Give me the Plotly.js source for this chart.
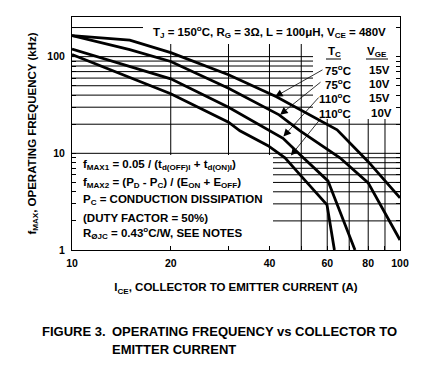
<!DOCTYPE html>
<html><head><meta charset="utf-8">
<script src="https://cdn.plot.ly/plotly-3.0.1.min.js"></script>
<style>html,body{margin:0;padding:0;background:#fff;}#chart{width:436px;height:371px;}</style>
</head><body><div id="chart"></div>
<script>
// ---- data ----
const xTickVals = [10,20,40,60,80,100];
const xMinorVals = [30,50,70,90];
const yTickVals = [1,10,100];
const yMinorVals = [2,3,4,5,6,7,8,9,20,30,40,50,60,70,80,90,200];

const seriesNames = ['75°C 15V','75°C 10V','110°C 15V','110°C 10V'];
const a_x = [10, 15, 20, 30, 42, 54.3, 64.3, 80, 100];
const a_y = [165, 148, 110, 65, 38.5, 23.9, 17.5, 8.2, 3.46];
const b_x = [10, 15, 20, 30, 42.8, 49.6, 65.6, 80, 100];
const b_y = [165, 118, 89, 47, 25, 17.1, 9.0, 4.95, 1.27];
const c_x = [10, 20, 30, 39.6, 44, 49.6, 60.3, 72.9];
const c_y = [120, 59, 30, 17.5, 14.3, 9.65, 5.19, 1.0];
const d_x = [10, 20, 30, 32.5, 39.6, 44.6, 49.6, 59.9, 63.1];
const d_y = [105, 41.4, 21, 17.1, 12.0, 8.98, 5.99, 2.93, 1.0];

// arrow tips (data values) for the legend leader lines
const arrowTips = [[41.6, 38.5], [43.1, 25.1], [44.1, 14.9], [46.5, 9.5]];
const tcLabels = ['75<sup>o</sup>C','75<sup>o</sup>C','110<sup>o</sup>C','110<sup>o</sup>C'];
const vgeLabels = ['15V','10V','15V','10V'];

const formulaLines = [
  'f<sub>MAX1</sub> = 0.05 / (t<sub>d(OFF)I</sub> + t<sub>d(ON)I</sub>)',
  'f<sub>MAX2</sub> = (P<sub>D</sub> - P<sub>C</sub>) / (E<sub>ON</sub> + E<sub>OFF</sub>)',
  'P<sub>C</sub> = CONDUCTION DISSIPATION',
  '(DUTY FACTOR = 50%)',
  'R<sub>ØJC</sub> = 0.43<sup>o</sup>C/W, SEE NOTES'
];

// ---- layout helpers ----
const W = 436, H = 371;
const M = {l:72, r:36, t:17, b:121};
const pw = W - M.l - M.r, ph = H - M.t - M.b;
const XR = [1, 2], YR = [0, 2.41];
const PX = v => (v - M.l) / pw;          // pixel -> paper
const PY = v => (H - M.b - v) / ph;
const LX = v => (Math.log10(v) - XR[0]) / (XR[1] - XR[0]);   // data -> paper
const LY = v => (Math.log10(v) - YR[0]) / (YR[1] - YR[0]);
const FONT = 'Liberation Sans, Arial, sans-serif';

const traces = [[a_x,a_y],[b_x,b_y],[c_x,c_y],[d_x,d_y]].map((s,i)=>({
  x: s[0], y: s[1], type:'scatter', mode:'lines', name: seriesNames[i],
  line:{color:'#000', width:2.8}, hoverinfo:'skip'
}));

const ann = [];
function txt(text, x, y, xanchor, size){
  ann.push({text, xref:'paper', yref:'paper', x:PX(x), y:PY(y), xanchor, yanchor:'middle',
    showarrow:false, font:{size:size||11.5, color:'#000', family:FONT, weight:'bold'}});
}
txt('T<sub>J</sub> = 150<sup>o</sup>C, R<sub>G</sub> = 3Ω, L = 100μH, V<sub>CE</sub> = 480V', 269.5, 32, 'center');
txt('T<sub>C</sub>', 334, 52, 'center');
txt('V<sub>GE</sub>', 376.5, 52, 'center');
const rowY = [70, 83.5, 98, 112.7];
rowY.forEach((y,i)=>{
  txt(tcLabels[i], 353, y, 'right');
  txt(vgeLabels[i], i===3?369:367, y, 'left');
});
const fY = [165, 182.7, 200, 217.7, 233.3];
formulaLines.forEach((t,i)=>txt(t, 81, fY[i], 'left'));
// caption
txt('FIGURE 3.', 40, 331.7, 'left', 13);
txt('OPERATING FREQUENCY vs COLLECTOR TO', 110, 331.7, 'left', 13);
txt('EMITTER CURRENT', 110, 349, 'left', 13);

// leader arrows
const tails = [[324,69],[322,81],[320,96],[322,117]];
arrowTips.forEach((t,i)=>{
  const tipPx = M.l + LX(t[0]) * pw;
  const tipPy = H - M.b - LY(t[1]) * ph;
  ann.push({x:Math.log10(t[0]), y:Math.log10(t[1]), xref:'x', yref:'y', text:'',
    showarrow:true, arrowhead:2, arrowsize:1.9, arrowwidth:0.8, arrowcolor:'#000',
    ax: tails[i][0]-tipPx, ay: tails[i][1]-tipPy, standoff:0});
});

// grid drawn as shapes so that the white text boxes can hide parts of it
const shapes = [];
xTickVals.concat(xMinorVals).filter(v => v > 10 && v < 100).forEach(v => shapes.push({type:'line', xref:'paper', yref:'paper',
  layer:'below', x0:LX(v), x1:LX(v), y0:0, y1:1, line:{color:'#000', width:1}}));
yTickVals.concat(yMinorVals).filter(v => v > 1).forEach(v => shapes.push({type:'line', xref:'paper', yref:'paper',
  layer:'below', x0:0, x1:1, y0:LY(v), y1:LY(v), line:{color:'#000', width:1}}));
const white = (x0,x1,y0,y1)=>({type:'rect', xref:'paper', yref:'paper', layer:'below',
  x0:PX(x0), x1:PX(x1), y0:PY(y1), y1:PY(y0), fillcolor:'#fff', line:{width:0}});
shapes.push(white(143, 401, 16, 44), white(313, 401, 44, 119), white(71, 273, 155, 251));
shapes.push(
  {type:'line', xref:'paper', yref:'paper', x0:PX(326), x1:PX(341), y0:PY(59), y1:PY(59), line:{color:'#000', width:1}},
  {type:'line', xref:'paper', yref:'paper', x0:PX(366), x1:PX(388), y0:PY(59), y1:PY(59), line:{color:'#000', width:1}}
);

const layout = {
  width:W, height:H, margin:M, showlegend:false,
  paper_bgcolor:'#fff', plot_bgcolor:'#fff',
  font:{family:FONT, size:10.5, color:'#000', weight:'bold'},
  xaxis:{type:'log', range:XR, tickmode:'array', tickvals:xTickVals, ticktext:xTickVals.map(String),
    showgrid:false, showline:true, linecolor:'#000', linewidth:1,
    mirror:true, ticks:'inside', ticklen:4, tickcolor:'#000', ticklabelstandoff:3,
    minor:{tickmode:'array', tickvals:xMinorVals, ticks:'inside', ticklen:4, tickcolor:'#000', showgrid:false},
    title:{text:'I<sub>CE</sub>, COLLECTOR TO EMITTER CURRENT (A)', font:{size:11.5, weight:'bold'}, standoff:15}},
  yaxis:{type:'log', range:YR, tickmode:'array', tickvals:yTickVals, ticktext:yTickVals.map(String),
    showgrid:false, showline:true, linecolor:'#000', linewidth:1,
    mirror:'ticks', ticks:'inside', ticklen:4, tickcolor:'#000', ticklabelstandoff:4,
    minor:{tickmode:'array', tickvals:yMinorVals, ticks:'inside', ticklen:4, tickcolor:'#000', showgrid:false},
    title:{text:'f<sub>MAX</sub>, OPERATING FREQUENCY (kHz)', font:{size:11.5, weight:'bold'}, standoff:8}},
  annotations: ann, shapes
};
Plotly.newPlot('chart', traces, layout, {displayModeBar:false, staticPlot:true});
</script></body></html>
